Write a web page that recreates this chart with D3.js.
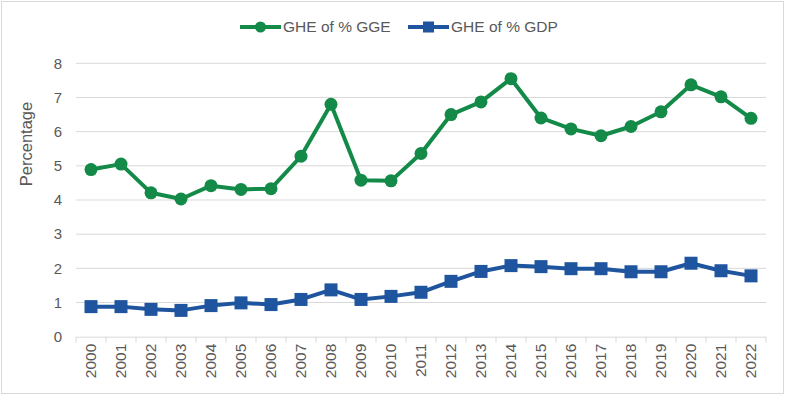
<!DOCTYPE html>
<html>
<head>
<meta charset="utf-8">
<script src="https://cdn.jsdelivr.net/npm/d3@7"></script>
<style>
  html, body { margin: 0; padding: 0; background: #fff; }
  svg { display: block; font-family: "Liberation Sans", Arial, sans-serif; }
</style>
</head>
<body>
<svg id="chart" width="787" height="395"></svg>
<script>
const years = ["2000","2001","2002","2003","2004","2005","2006","2007","2008","2009","2010","2011","2012","2013","2014","2015","2016","2017","2018","2019","2020","2021","2022"];
const gheGGE = [4.89,5.05,4.21,4.03,4.42,4.31,4.33,5.28,6.80,4.58,4.56,5.36,6.50,6.87,7.55,6.40,6.08,5.88,6.15,6.58,7.37,7.02,6.39];
const gheGDP = [0.88,0.88,0.80,0.77,0.91,0.99,0.94,1.09,1.37,1.09,1.18,1.30,1.62,1.91,2.08,2.05,1.99,1.99,1.90,1.90,2.15,1.93,1.78];
const yTicks = [0,1,2,3,4,5,6,7,8];
const seriesNames = ["GHE of % GGE", "GHE of % GDP"];
const colors = ["#138A48", "#1F559E"];
const yTitle = "Percentage";

const svg = d3.select("#chart");
const W = 787, H = 395;
const margin = {left: 76, right: 21, top: 63.3, bottom: 58.3};
const plotW = W - margin.left - margin.right;
const plotH = H - margin.top - margin.bottom;

// outer frame
svg.append("rect").attr("x", 1.5).attr("y", 1.5).attr("width", 782).attr("height", 392)
  .attr("fill", "#fff").attr("stroke", "#d9d9d9").attr("stroke-width", 1);

const g = svg.append("g").attr("transform", `translate(${margin.left},${margin.top})`);

const x = d3.scaleBand().domain(years).range([0, plotW]).padding(0);
const y = d3.scaleLinear().domain([0, 8]).range([plotH, 0]);

// gridlines
g.append("g").selectAll("line").data(yTicks.filter(d => d > 0)).join("line")
  .attr("x1", 0).attr("x2", plotW)
  .attr("y1", d => y(d)).attr("y2", d => y(d))
  .attr("stroke", "#d9d9d9").attr("stroke-width", 1);

// y axis labels
const yAxis = d3.axisLeft(y).tickValues(yTicks).tickSize(0).tickPadding(14).tickFormat(d3.format("d"));
const ya = g.append("g").call(yAxis);
ya.select(".domain").remove();
ya.selectAll("text").attr("fill", "#595959").style("font-size", "15px").style("font-family", "Liberation Sans, Arial, sans-serif");

// x axis
const xAxis = d3.axisBottom(x).tickSize(0).tickPadding(0);
const xa = g.append("g").attr("transform", `translate(0,${plotH})`).call(xAxis);
xa.select(".domain").attr("stroke", "#d9d9d9").attr("stroke-width", 1)
  .attr("d", `M0,0.5H${plotW}`);
xa.selectAll(".tick text")
  .attr("fill", "#595959").style("font-size", "15.5px").style("font-family", "Liberation Sans, Arial, sans-serif")
  .attr("transform", "rotate(-90)")
  .attr("text-anchor", "end")
  .attr("x", -7).attr("y", 0).attr("dy", "0.35em");
// boundary ticks
const bounds = years.map(d => x(d)).concat([plotW]);
xa.append("g").selectAll("line").data(bounds).join("line")
  .attr("x1", d => d).attr("x2", d => d).attr("y1", 0).attr("y2", 6)
  .attr("stroke", "#d9d9d9").attr("stroke-width", 1);

// y title
svg.append("text").attr("transform", "translate(32,144) rotate(-90)")
  .attr("text-anchor", "middle").attr("fill", "#595959")
  .style("font-size", "16.5px").text(yTitle);

const cx = d => x(d) + x.bandwidth() / 2;
const line = d3.line().x(d => cx(d[0])).y(d => y(d[1]));

// GGE series
const dGGE = years.map((yr, i) => [yr, gheGGE[i]]);
g.append("path").datum(dGGE).attr("d", line).attr("fill", "none")
  .attr("stroke", colors[0]).attr("stroke-width", 4).attr("stroke-linejoin", "round");
g.append("g").selectAll("circle").data(dGGE).join("circle")
  .attr("cx", d => cx(d[0])).attr("cy", d => y(d[1])).attr("r", 6.5).attr("fill", colors[0]);

// GDP series
const dGDP = years.map((yr, i) => [yr, gheGDP[i]]);
g.append("path").datum(dGDP).attr("d", line).attr("fill", "none")
  .attr("stroke", colors[1]).attr("stroke-width", 4).attr("stroke-linejoin", "round");
g.append("g").selectAll("rect").data(dGDP).join("rect")
  .attr("x", d => cx(d[0]) - 6.5).attr("y", d => y(d[1]) - 6.5)
  .attr("width", 13).attr("height", 13).attr("fill", colors[1]);

// legend
const legend = svg.append("g").attr("transform", "translate(0,27)");
const items = [{x: 240, name: seriesNames[0], c: colors[0], shape: "circle"},
               {x: 408, name: seriesNames[1], c: colors[1], shape: "rect"}];
items.forEach(it => {
  legend.append("line").attr("x1", it.x).attr("x2", it.x + 41).attr("y1", 0).attr("y2", 0)
    .attr("stroke", it.c).attr("stroke-width", 4);
  if (it.shape === "circle") {
    legend.append("circle").attr("cx", it.x + 20.5).attr("cy", 0).attr("r", 5.5).attr("fill", it.c);
  } else {
    legend.append("rect").attr("x", it.x + 15).attr("y", -5.5).attr("width", 11).attr("height", 11).attr("fill", it.c);
  }
  legend.append("text").attr("x", it.x + 43).attr("y", 0).attr("dy", "0.35em")
    .attr("fill", "#595959").style("font-size", "15.5px").text(it.name);
});
</script>
</body>
</html>
